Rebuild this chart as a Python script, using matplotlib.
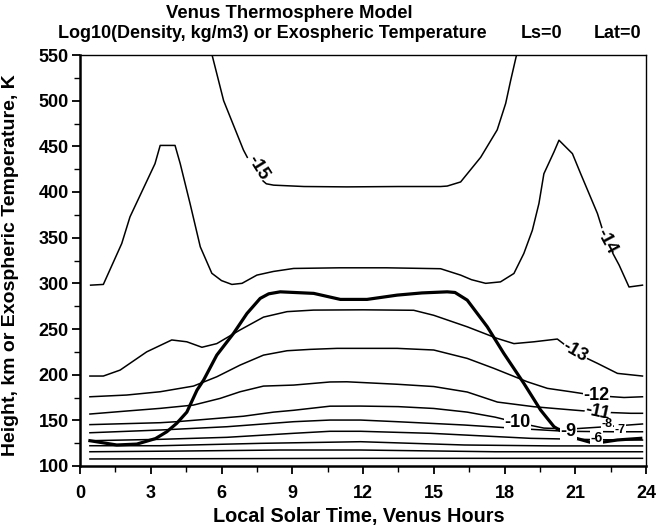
import matplotlib.pyplot as plt
from matplotlib.ticker import MultipleLocator

plt.rcParams['font.family'] = ['Liberation Sans', 'DejaVu Sans']
plt.rcParams['font.weight'] = 'bold'

# log10(density) contours: local time (h) vs height (km)
m15_hr = [5.6, 6.09, 6.93, 7.5, 7.9, 8.21, 9.5, 11.32, 13.5, 15.29, 15.57, 16.14, 16.99, 17.69, 18.05, 18.26, 18.51]
m15_km = [550, 500, 446, 418, 409, 407.5, 406, 405.6, 406, 406, 406.5, 411, 438, 468, 497, 522, 550]

m14_hr = [0.45, 0.99, 1.77, 2.12, 3.18, 3.40, 4.03, 4.25, 4.67, 5.10, 5.59, 6.0, 6.44, 6.87, 7.50, 8.2,
          9.06, 11, 13, 15.29, 16.14, 16.6, 17.2, 17.83, 18.4, 18.82, 19.18, 19.46, 19.67, 20.1, 20.31,
          20.88, 21.23, 21.94, 22.3, 22.86, 23.28, 23.85]
m14_km = [298, 298.8, 343.6, 372.8, 431, 451, 451, 431, 387, 340, 311, 303, 298.8, 300, 309, 313,
          316.3, 317, 317, 316, 309, 304, 300, 301.6, 310.8, 332.7, 358, 387.4, 420, 444, 456.7,
          442, 420, 376.5, 347, 320, 296, 298]

m13_hr = [0.42, 0.99, 1.70, 2.83, 3.89, 4.53, 5.17, 5.80, 6.79, 7.78, 8.78, 9.9, 12, 14.15, 15.0,
          16.42, 17.69, 18.4, 19.25, 20.24, 21.0, 21.94, 22.79, 23.85]
m13_km = [198.5, 198.5, 205, 225, 238, 236, 230, 234, 249, 263, 269, 270.7, 271, 270.5, 265,
          252.4, 239.7, 234, 236, 239, 224, 212.4, 201.4, 198.5]

m12_hr = [0.42, 1.98, 3.40, 4.81, 5.80, 6.79, 7.78, 8.78, 9.77, 10.9, 13.45, 15.0, 16.42, 17.55,
          18.97, 19.82, 20.81, 21.9, 23.07, 23.85]
m12_km = [175.8, 177.7, 181.3, 187.5, 197.7, 210.5, 221.4, 226.2, 227.7, 228.8, 228.8, 227, 217.8, 206.9,
          192.2, 185, 181.3, 177, 175, 175.8]

m11_hr = [0.42, 1.98, 3.40, 4.81, 5.94, 6.79, 7.78, 9.06, 10.6, 11.32, 13.45, 15.0, 16.42, 17.7,
          19.25, 20.9, 22.0, 23.35, 23.85]
m11_km = [156.9, 160.2, 163.1, 166.7, 174, 181.3, 187.5, 188.6, 192, 192.2, 189.5, 187, 181, 170,
          164.9, 161.3, 159, 157.7, 157.7]

m10_hr = [0.42, 3.40, 4.1, 5.52, 6.93, 8.21, 9.06, 10.6, 11.89, 13.5, 15.0, 16.42, 17.6, 18.55,
          19.67, 20.8, 22.0, 23.85]
m10_km = [145.3, 147.4, 148.5, 151.5, 154.5, 159, 161, 165.5, 165.6, 165, 163, 159, 153.5, 147.5,
          141.5, 140.5, 142.5, 146]

m9_hr = [0.42, 3.4, 6.23, 9.06, 10.6, 11.9, 13.45, 16.28, 19.1, 20.6, 22.6, 23.85]
m9_km = [136.4, 139.4, 143, 148.5, 150.3, 150.3, 148.5, 144.9, 140.2, 138, 137.5, 137.5]

m8_hr = [0.42, 3.4, 6.23, 9.06, 10.6, 11.9, 14.86, 19.1, 22.0, 23.85]
m8_km = [127.7, 129.2, 131.4, 135.8, 138, 138, 135.8, 130.3, 128.8, 128.4]

m7_hr = [0.42, 3.4, 7.64, 11.9, 16.3, 20.0, 23.85]
m7_km = [122.2, 122.2, 124.8, 126.6, 123, 122, 122]

m6_hr = [0.42, 4.0, 8.5, 11.9, 17.6, 23.85]
m6_km = [115.6, 116.3, 117.5, 117.5, 115.6, 115.6]

m5_hr = [0.42, 12.0, 23.85]
m5_km = [107.7, 108.4, 108.4]

# exospheric temperature (K), heavy line
temp_hr = [0.42, 1.56, 2.41, 3.2, 3.68, 4.1, 4.53, 4.96, 5.24, 5.80, 6.51, 7.08, 7.64, 8.0, 8.49,
           9.91, 11.04, 12.17, 13.45, 14.5, 15.57, 15.9, 16.42, 17.27, 17.97, 18.82, 19.53, 20.1,
           20.81, 21.8, 22.79, 23.78]
temp_k = [127.7, 123, 124, 130, 137.5, 146.7, 159, 183, 194, 221.4, 245.2, 267, 283.5, 288.5, 290.7,
          289, 282.4, 282.4, 287.1, 289.5, 290.7, 290, 281.6, 252.4, 223.3, 190.5, 161.3, 143,
          132, 124.8, 128.5, 130.3]

# label text, position (h, km), rotation, size
lab_text = ['-15', '-14', '-13', '-12', '-11', '-10', '-9', '-8', '-7', '-6']
lab_hr = [7.55, 22.3, 21.0, 21.9, 21.95, 18.55, 20.7, 22.35, 22.9, 21.9]
lab_km = [427, 346, 225, 177, 159, 148, 138, 146, 139, 131]
lab_rot = [-58, -62, -30, 0, -12, 0, 0, 0, 0, 0]
lab_size = [13, 13, 13, 13, 13, 13, 13, 9, 9, 10]

fig = plt.figure(figsize=(6.59, 5.30), dpi=100)
ax = fig.add_axes([80 / 659, 1 - 466 / 530, 566 / 659, 411 / 530])

lines = [(m15_hr, m15_km), (m14_hr, m14_km), (m13_hr, m13_km), (m12_hr, m12_km),
         (m11_hr, m11_km), (m10_hr, m10_km), (m9_hr, m9_km), (m8_hr, m8_km),
         (m7_hr, m7_km), (m6_hr, m6_km), (m5_hr, m5_km)]
for xs, ys in lines:
    ax.plot(xs, ys, color='black', lw=1.1)

ax.plot(temp_hr, temp_k, color='black', lw=2.3)

for t, x, y, r, fs in zip(lab_text, lab_hr, lab_km, lab_rot, lab_size):
    ax.text(x, y, t, rotation=r, ha='center', va='center', fontsize=fs, fontweight='bold',
            bbox=dict(facecolor='white', edgecolor='none', pad=0.2), zorder=5)

ax.set_xlim(0, 24)
ax.set_ylim(100, 550)
ax.xaxis.set_major_locator(MultipleLocator(3))
ax.xaxis.set_minor_locator(MultipleLocator(1.5))
ax.yaxis.set_major_locator(MultipleLocator(50))
ax.yaxis.set_minor_locator(MultipleLocator(25))
ax.tick_params(which='major', length=6, width=1.3, labelsize=13)
ax.tick_params(axis='x', which='major', pad=8)
ax.tick_params(axis='y', which='major', pad=2)
ax.tick_params(which='minor', length=4, width=1.0)
for lbl in ax.get_xticklabels() + ax.get_yticklabels():
    lbl.set_fontweight('bold')

ax.spines['left'].set_linewidth(1.8)
ax.spines['bottom'].set_linewidth(1.8)
ax.spines['top'].set_linewidth(1.0)
ax.spines['right'].set_linewidth(1.0)

ax.set_xlabel('Local Solar Time, Venus Hours', fontsize=14.3, fontweight='bold')
ax.xaxis.set_label_coords(0.493, -0.1)
ax.set_ylabel('Height, km or Exospheric Temperature, K', fontsize=14, fontweight='bold')
ax.yaxis.set_label_coords(-0.108, 0.488)

fig.text(289 / 659, 1 - 13 / 530, 'Venus Thermosphere Model', ha='center', va='center',
         fontsize=13.3, fontweight='bold')
fig.text(58 / 659, 1 - 34 / 530, 'Log10(Density, kg/m3) or Exospheric Temperature',
         ha='left', va='center', fontsize=13, fontweight='bold')
fig.text(521 / 659, 1 - 34 / 530, 'Ls=0', ha='left', va='center', fontsize=13, fontweight='bold')
fig.text(641 / 659, 1 - 34 / 530, 'Lat=0', ha='right', va='center', fontsize=13, fontweight='bold')

fig.savefig('out.png', dpi=100)
